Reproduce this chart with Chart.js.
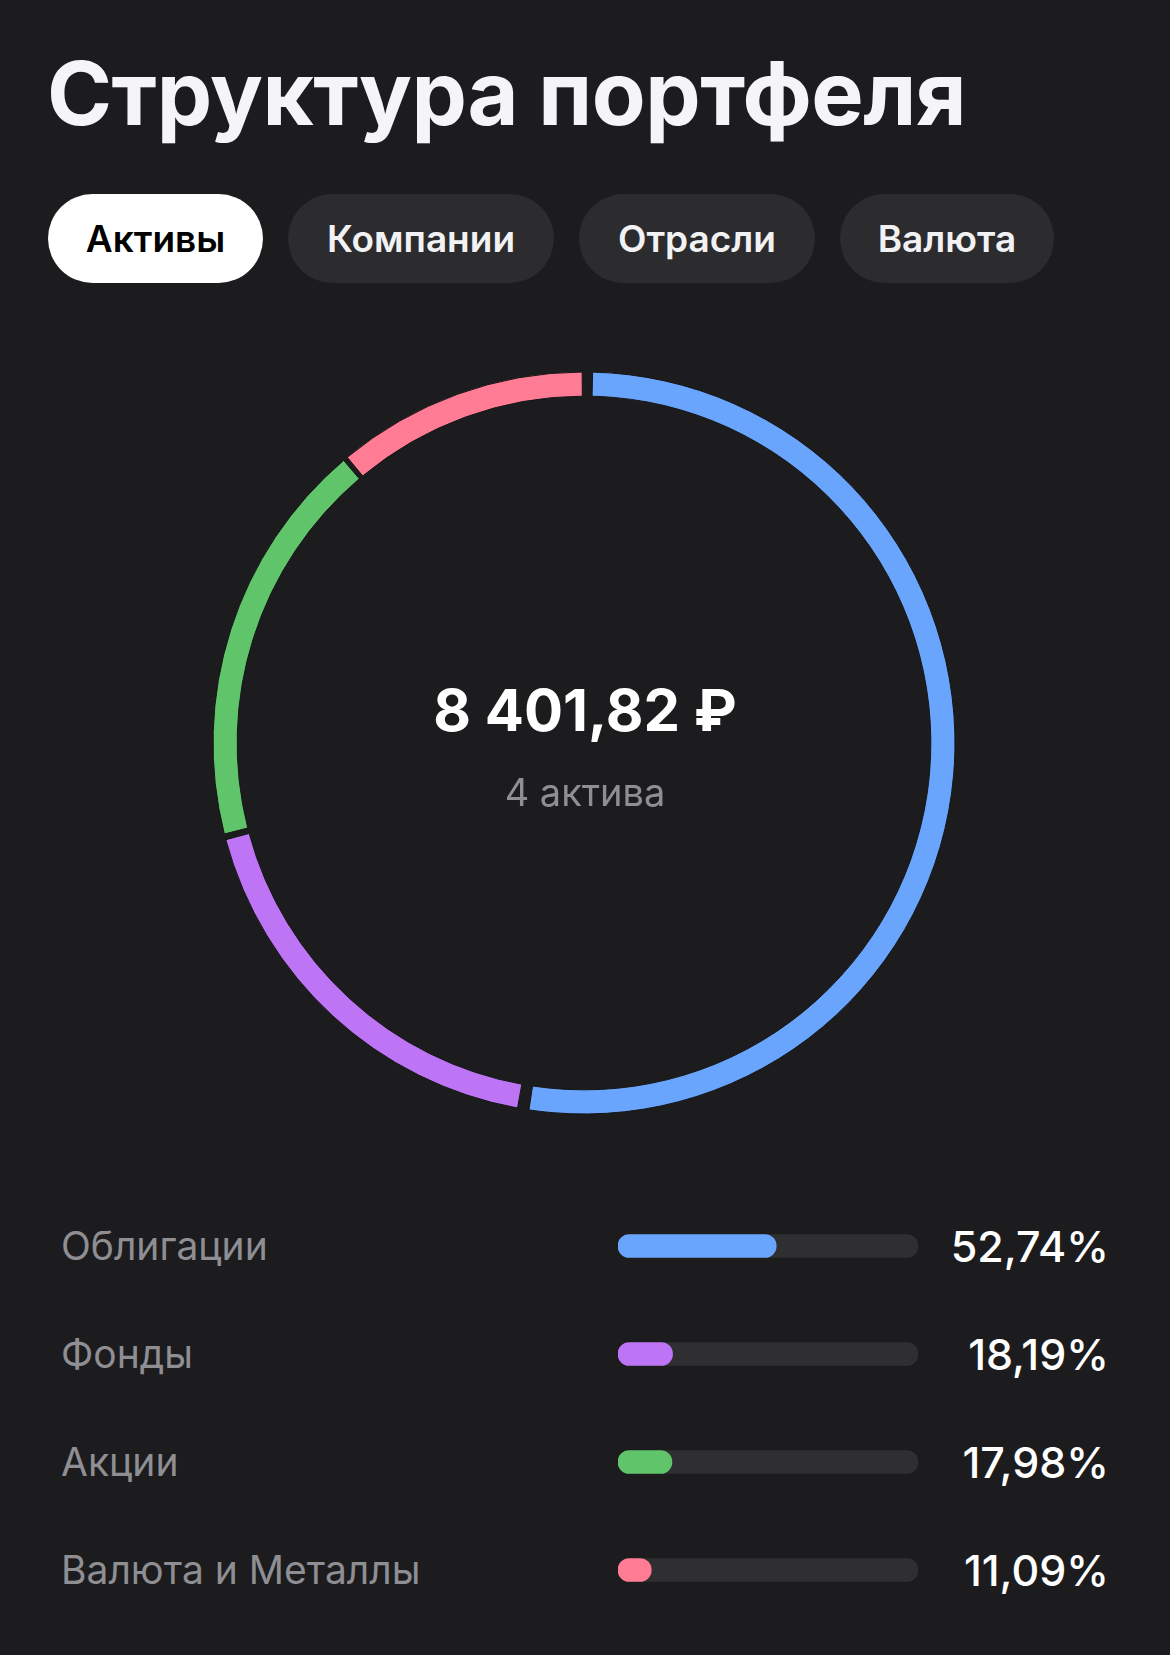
<!DOCTYPE html>
<html lang="ru">
<head>
<meta charset="utf-8">
<title>Структура портфеля</title>
<script src="https://cdn.jsdelivr.net/npm/chart.js@4/dist/chart.umd.min.js"></script>
<style>
  html, body {
    margin: 0;
    padding: 0;
    background: #1c1c1e;
    width: 1170px;
    height: 1655px;
    overflow: hidden;
    font-family: Inter, "Noto Sans", sans-serif;
  }
  .page { position: relative; width: 1170px; height: 1655px; }
  h1 {
    position: absolute;
    left: 47px;
    top: 38px;
    margin: 0;
    font-size: 88px;
    font-weight: 700;
    color: #f5f5f7;
    letter-spacing: -0.5px;
    line-height: 110px;
  }
  .tabs { position: absolute; top: 194px; left: 48px; display: flex; gap: 25px; }
  .tab {
    height: 89px;
    line-height: 89px;
    border-radius: 45px;
    background: #2c2c2e;
    color: #f2f2f4;
    font-size: 37px;
    font-weight: 600;
    text-align: center;
  }
  .tab.active { background: #ffffff; color: #000000; }
  #donutWrap { position: absolute; left: 184px; top: 343px; width: 800px; height: 800px; }
  .center-total {
    position: absolute; left: 0; width: 1170px; top: 675px;
    text-align: center; color: #ffffff; font-size: 58px; font-weight: 700; line-height: 70px;
  }
  .center-sub {
    position: absolute; left: 0; width: 1170px; top: 769px;
    text-align: center; color: #8e8e93; font-size: 38px; font-weight: 400; line-height: 46px;
  }
  #barsWrap { position: absolute; left: 618px; top: 1192px; width: 300px; height: 432px; }
  .lbl {
    position: absolute; left: 61px; color: #8e8e93; font-size: 39px; line-height: 46px;
  }
  .pct {
    position: absolute; right: 61px; color: #ffffff; font-size: 43px; font-weight: 500; line-height: 52px;
    text-align: right;
  }
</style>
</head>
<body>
<div class="page">
  <h1>Структура портфеля</h1>
  <div class="tabs" id="tabs"></div>
  <div id="donutWrap"><canvas id="donut" width="800" height="800"></canvas></div>
  <div class="center-total" id="total"></div>
  <div class="center-sub" id="sub"></div>
  <div id="barsWrap"><canvas id="bars" width="300" height="432"></canvas></div>
  <div id="legend"></div>
</div>
<script>
const tabLabels = ["Активы", "Компании", "Отрасли", "Валюта"];
const tabWidths = [215, 266, 236, 214];
const categories = ["Облигации", "Фонды", "Акции", "Валюта и Металлы"];
const shares = [52.74, 18.19, 17.98, 11.09];
const colors = ["#6aa5fd", "#bd75f6", "#5fc46a", "#ff7c94"];
const totalText = "8 401,82 ₽";
const subText = "4 актива";

// tabs
const tabsEl = document.getElementById("tabs");
tabLabels.forEach((t, i) => {
  const d = document.createElement("div");
  d.className = "tab" + (i === 0 ? " active" : "");
  d.style.width = tabWidths[i] + "px";
  d.textContent = t;
  tabsEl.appendChild(d);
});

document.getElementById("total").textContent = totalText;
document.getElementById("sub").textContent = subText;

// legend texts
const rowTop = 1192, rowH = 108;
const legendEl = document.getElementById("legend");
categories.forEach((c, i) => {
  const mid = rowTop + rowH * i + rowH / 2;
  const l = document.createElement("div");
  l.className = "lbl";
  l.style.top = (mid - 23) + "px";
  l.textContent = c;
  legendEl.appendChild(l);
  const p = document.createElement("div");
  p.className = "pct";
  p.style.top = (mid - 26) + "px";
  p.textContent = shares[i].toFixed(2).replace(".", ",") + "%";
  legendEl.appendChild(p);
});

// donut
new Chart(document.getElementById("donut").getContext("2d"), {
  type: "doughnut",
  data: {
    labels: categories,
    datasets: [{
      data: shares,
      backgroundColor: colors,
      borderColor: "#161618",
      borderWidth: 1,
      spacing: 10
    }]
  },
  options: {
    responsive: false,
    animation: false,
    radius: 366,
    cutout: "93.4%",
    rotation: 0,
    layout: { padding: 0 },
    plugins: { legend: { display: false }, tooltip: { enabled: false } }
  }
});

// progress bars
new Chart(document.getElementById("bars").getContext("2d"), {
  type: "bar",
  data: {
    labels: categories,
    datasets: [
      {
        data: shares,
        backgroundColor: colors,
        borderRadius: 12,
        borderSkipped: false,
        barThickness: 23,
        grouped: false,
        order: 0
      },
      {
        data: categories.map(() => 100),
        backgroundColor: "#2f2f31",
        borderRadius: 12,
        borderSkipped: false,
        barThickness: 23,
        grouped: false,
        order: 1
      }
    ]
  },
  options: {
    indexAxis: "y",
    responsive: false,
    animation: false,
    layout: { padding: 0 },
    scales: {
      x: { display: false, min: 0, max: 100 },
      y: { display: false }
    },
    plugins: { legend: { display: false }, tooltip: { enabled: false } }
  }
});
</script>
</body>
</html>
